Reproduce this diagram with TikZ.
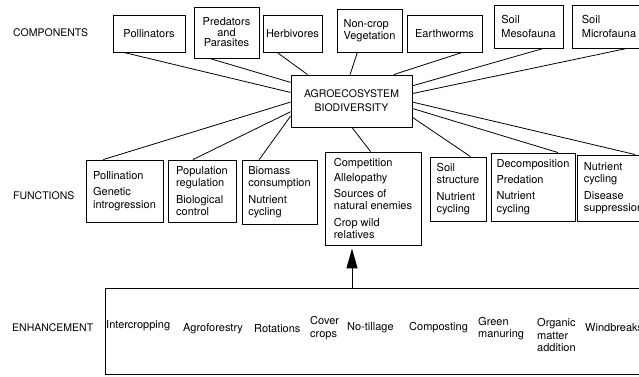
\documentclass[tikz,border=0pt]{standalone}
\usepackage{fontspec}
\setmainfont{TeX Gyre Heros}
\usetikzlibrary{arrows.meta}
\tikzset{
    normal/.style={draw, line width=0.9pt},
    c/.style={style=normal, align=center, inner sep=2pt, font=\fontsize{11}{12}\selectfont}, % component boxes
    f/.style={style=normal, align=left, inner sep=2pt, font=\fontsize{11}{12.5}\selectfont}, % function boxes
    t/.style={align=left, inner sep=0pt, font=\fontsize{11}{12.5}\selectfont}, % practices
    hd/.style={inner sep=0pt, font=\fontsize{10.5}{12}\selectfont}, % row headings
    te/.style={line width=0.8pt},
    up/.style={line width=1pt, -{Triangle[length=20pt, width=11pt]}, shorten >=3pt}
}

\begin{document}
\begin{tikzpicture}[x=1pt, y=-1pt]
        \useasboundingbox (0,0) rectangle (639,376);

        \node[hd, anchor=west] (cmp) at (13,33) {COMPONENTS};
        \node[hd, anchor=west] (fun) at (13,196) {FUNCTIONS};
        \node[hd, anchor=west] (enh) at (12,328) {ENHANCEMENT};

        \node[c, minimum width=72pt, minimum height=37pt] (poll) at (149,33.5)
        {Pollinators};
        \node[c, minimum width=65pt, minimum height=51pt, font=\fontsize{11}{10.5}\selectfont] (pred) at (226.5,32.5)
        {Predators\\and\\Parasites};
        \node[c, minimum width=59pt, minimum height=37pt] (herb) at (292.5,33.5)
        {Herbivores};
        \node[c, align=left, minimum width=65pt, minimum height=43pt] (veg) at (369.5,30.5)
        {Non-crop\\Vegetation};
        \node[c, minimum width=75pt, minimum height=37pt] (worm) at (444.5,33.5)
        {Earthworms};
        \node[c, align=left, minimum width=69pt, minimum height=43pt, font=\fontsize{11}{14}\selectfont] (meso) at (528.5,26.5)
        {Soil\\Mesofauna};
        \node[c, align=left, minimum width=74pt, minimum height=43pt, font=\fontsize{11}{14}\selectfont] (micro) at (609,26.5)
        {Soil\\Microfauna};

        \node[c, minimum width=121pt, minimum height=52pt, font=\fontsize{10.5}{14}\selectfont] (bio) at (351.5,101)
        {AGROECOSYSTEM\\BIODIVERSITY};

        \node[f, minimum width=77pt, minimum height=62pt] (pol) at (124.5,191)
        {Pollination\\[4pt]Genetic\\introgression};
        \node[f, minimum width=68pt, minimum height=62pt] (pop) at (202,191)
        {Population\\regulation\\[4pt]Biological\\control};
        \node[f, minimum width=75pt, minimum height=64pt] (mass) at (279.5,192)
        {Biomass\\consumption\\[4pt]Nutrient\\cycling};
        \node[f, minimum width=96pt, minimum height=93pt] (cmpt) at (373,198.5)
        {Competition\\[3pt]Allelopathy\\[3pt]Sources of\\natural enemies\\[4pt]Crop wild\\relatives};
        \node[f, minimum width=56pt, minimum height=64pt] (soil) at (458,189)
        {Soil\\structure\\[4pt]Nutrient\\cycling};
        \node[f, minimum width=84pt, minimum height=68pt] (dec) at (533,187)
        {Decomposition\\[3pt]Predation\\[4pt]Nutrient\\cycling};
        \node[f, minimum width=73pt, minimum height=66pt] (nut) at (613.5,188)
        {Nutrient\\cycling\\[4pt]Disease\\suppression};

        \node[normal, minimum width=545pt, minimum height=86pt] (prac) at (377.5,331) {};
        \node[t, anchor=west] (ic) at (106,326) {Intercropping};
        \node[t, anchor=west] (af) at (183,329) {Agroforestry};
        \node[t, anchor=west] (rot) at (254,329) {Rotations};
        \node[t, anchor=west] (cc) at (310,328) {Cover\\crops};
        \node[t, anchor=west] (nt) at (347,328) {No-tillage};
        \node[t, anchor=west] (cp) at (409,328) {Composting};
        \node[t, anchor=west] (gm) at (478,328.5) {Green\\manuring};
        \node[t, anchor=west] (om) at (537,335) {Organic\\matter\\addition};
        \node[t, anchor=west] (wb) at (585,328) {Windbreaks};

        \draw[te]
        (bio.172.5) edge (poll.217.6)
        (bio.163.4) edge (pred.237.1)
        (bio.149.7) edge (herb.231.9)
        (bio.93.3) edge (veg.241.9)
        (bio.32.1) edge (worm.313.4)
        (bio.14.8) edge (meso.304)
        (bio.7.5) edge (micro.309.9)
        (bio.181.9) edge (pol.124.7)
        (bio.190.3) edge (pop.106.2)
        (bio.194.8) edge (mass.122.6)
        (bio.271) edge (cmpt.93.7)
        (bio.345.2) edge (soil.69.4)
        (bio.353.4) edge (dec.54.8)
        (bio.359) edge (nut.57.7);

        \coordinate (ax) at (352,0);
        \draw[up] (ax |- prac.north) -- (ax |- cmpt.south);
      \end{tikzpicture}
\end{document}
